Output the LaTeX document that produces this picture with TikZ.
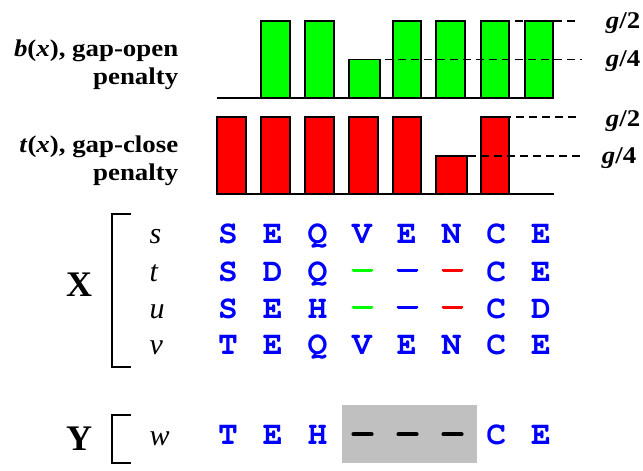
\documentclass[tikz,border=0pt]{standalone}
\usepackage[T1,TU]{fontenc}
\usepackage{fontspec}
\setmainfont{Liberation Serif}
\newcommand*\residuefont{\fontencoding{T1}\fontfamily{pcr}\fontseries{b}\selectfont}
\definecolor{seqblue}{RGB}{0,0,255}
\definecolor{opengreen}{RGB}{0,255,0}
\definecolor{closered}{RGB}{255,0,0}
\definecolor{boxgray}{RGB}{192,192,192}
\newcommand*\widetext[1]{\scalebox{1.12}[1]{#1}}
\begin{document}
\begin{tikzpicture}[x=1pt,y=-1pt,
  openbar/.style={draw=black,line width=1.8pt,fill=opengreen},
  closebar/.style={draw=black,line width=1.8pt,fill=closered},
  axisline/.style={line width=1.8pt},
  levelline/.style={line width=1.7pt,dash pattern=on 8pt off 5pt},
  penaltytext/.style={font=\fontsize{24}{28}\bfseries\selectfont,inner sep=0pt},
  leveltext/.style={font=\fontsize{24}{28}\bfseries\selectfont,inner sep=0pt,anchor=base west},
  residue/.style={font=\fontsize{33}{33}\residuefont,text=seqblue,inner sep=0pt,anchor=base},
  seqname/.style={font=\fontsize{30}{30}\itshape\selectfont,inner sep=0pt,anchor=base west},
  setname/.style={font=\fontsize{36}{36}\bfseries\selectfont,inner sep=0pt,anchor=base},
  bracket/.style={line width=1.8pt},
  gapmark/.style={line width=3.6pt,line cap=round},
]
\useasboundingbox (0,0) rectangle (643,471);

% ---- gap-open penalty b(x) ----
\node[penaltytext,anchor=base east] (blabel) at (178.5,56) {\widetext{\textit{b}(\textit{x}), gap-open}};
\node[penaltytext,anchor=base east] (bpen) at (178.5,84) {\widetext{penalty}};
\foreach \l/\w/\t in {260.7/29.3/21, 304.7/29/21, 348.7/31.6/59.5, 392.7/28.6/21,
                      436.3/29/21, 480.7/28.6/21, 525/28.3/21}
  \draw[openbar] (\l,98) rectangle (\l+\w,\t);
\coordinate (baxisL) at (216.7,98);
\coordinate (baxisR) at (553.5,98);
\draw[axisline] (baxisL) -- (baxisR);
\node[leveltext] (bhalf) at (605.7,28.5) {\widetext{\textit{g}/2}};
\node[leveltext] (bquarter) at (605.7,66) {\widetext{\textit{g}/4}};
\coordinate (bhalfS) at (489,21);
\coordinate (bquarterS) at (371.7,59.5);
\draw[levelline] (bhalfS) -- (578,21);
\draw[levelline] (bquarterS) -- (581.7,59.5);

% ---- gap-close penalty t(x) ----
\node[penaltytext,anchor=base east] (tlabel) at (178.5,152) {\widetext{\textit{t}(\textit{x}), gap-close}};
\node[penaltytext,anchor=base east] (tpen) at (178.5,180) {\widetext{penalty}};
\foreach \l/\w/\t in {216.7/29.3/117.3, 260.7/29.3/117.3, 304.7/29/117.3, 348.7/29.3/117.3,
                      392.7/28.6/117.3, 436.3/30.4/156, 480.7/28.6/117.3}
  \draw[closebar] (\l,194.3) rectangle (\l+\w,\t);
\coordinate (taxisL) at (216.7,194.3);
\coordinate (taxisR) at (553.5,194.3);
\draw[axisline] (taxisL) -- (taxisR);
\node[leveltext] (thalf) at (605.7,126.7) {\widetext{\textit{g}/2}};
\node[leveltext] (tquarter) at (601.7,163.3) {\widetext{\textit{g}/4}};
\coordinate (thalfS) at (490,117.3);
\coordinate (tquarterS) at (455,156);
\draw[levelline] (thalfS) -- (578,117.3);
\draw[levelline] (tquarterS) -- (581.7,156);

% ---- aligned set X ----
\draw[bracket] (131,214) -- (111.7,214) -- (111.7,366.7) -- (131,366.7);
\node[setname] (X) at (79,296.7) {X};
\foreach \name/\base/\seq [count=\r] in {s/243.3/{S,E,Q,V,E,N,C,E},
                                         t/281/{S,D,Q,,,,C,E},
                                         u/318.3/{S,E,H,,,,C,D},
                                         v/354/{T,E,Q,V,E,N,C,E}} {
  \node[seqname] (name\r) at (149.5,\base) {\name};
  \foreach \c [count=\k from 0] in \seq
    \node[residue] (res\r-\k) at (228+44.7*\k,\base) {\c};
}
% gap marks in rows t and u
\foreach \yy in {270.3,307.3} {
  \draw[gapmark,opengreen] (353.5,\yy) -- (371.5,\yy);
  \draw[gapmark,seqblue]   (398.5,\yy) -- (416.5,\yy);
  \draw[gapmark,closered]  (443.5,\yy) -- (461.5,\yy);
}

% ---- single sequence Y ----
\draw[bracket] (131,415) -- (111.7,415) -- (111.7,462.7) -- (131,462.7);
\node[setname] (Y) at (79.2,450) {Y};
\node[seqname] (namew) at (149.5,445) {w};
\fill[boxgray] (342.3,405) rectangle (477,462.7);
\foreach \c/\k in {T/0,E/1,H/2,C/6,E/7}
  \node[residue] (resw-\k) at (228+44.7*\k,444) {\c};
\foreach \xx in {362.5,407.5,452.5}
  \draw[gapmark,line width=4.2pt,black] (\xx-9,434.3) -- (\xx+9,434.3);
\end{tikzpicture}
\end{document}
